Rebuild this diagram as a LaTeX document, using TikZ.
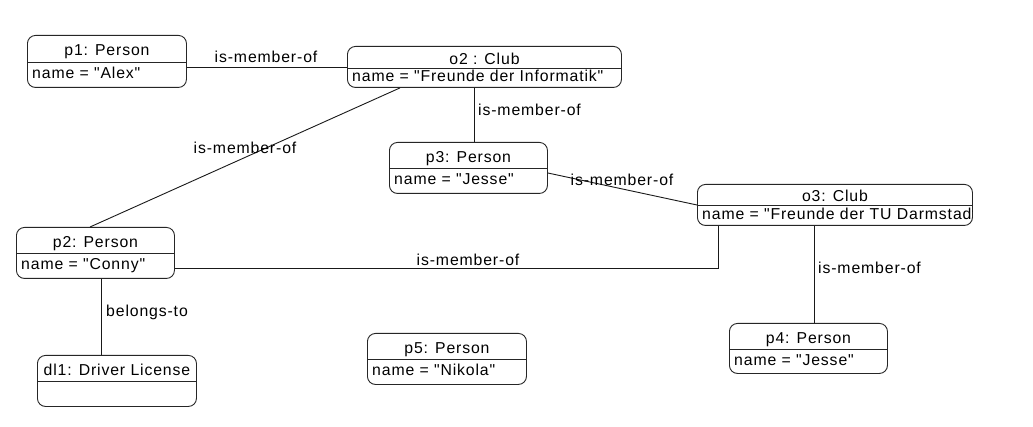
\documentclass[tikz,border=0pt]{standalone}
\usepackage{fontspec}
\newfontfamily\diagfont{Liberation Sans}[LetterSpace=5.5]
\usetikzlibrary{calc}
\tikzset{
  objbox/.style={draw=black!85, line width=0.9pt, rounded corners=8pt, inner sep=0pt, anchor=north west},
  divline/.style={draw=black!85, line width=0.9pt},
  conn/.style={draw=black!90, line width=0.9pt},
  txt/.style={inner sep=0pt, font=\diagfont\fontsize{15.8}{17}\selectfont, text=black},
  lbl/.style={txt},
}
% name, x, y, width, height, divider offset, title, attribute
\newcommand\objnode[8]{%
  \node[objbox, minimum width=#4pt, minimum height=#5pt] (#1) at (#2,-#3) {};
  \draw[divline] ([yshift=-#6pt]#1.north west) -- ([yshift=-#6pt]#1.north east);
  \node[txt, anchor=base] (#1-title) at ($(#1.north)+(0,-#6/2-7.5)$) {#7};
  \begin{scope}
    \clip (#1.north west) rectangle (#1.south east);
    \node[txt, anchor=base west] (#1-attr) at ($(#1.north west)+(5,-#6/2-#5/2-4.5)$) {#8};
  \end{scope}
}
\begin{document}
\begin{tikzpicture}[x=1pt,y=1pt]
\useasboundingbox (0,0) rectangle (1033,-427);
\fill[white] (0,0) rectangle (1033,-427);

\objnode{p1}{27}{35}{159}{52}{27}{p1: Person}{name = "Alex"}
\objnode{o2}{347}{46}{274}{41}{22}{o2 : Club}{name = "Freunde der Informatik"}
\objnode{p3}{389}{142}{158}{51}{26}{p3: Person}{name = "Jesse"}
\objnode{o3}{697}{184}{275}{41}{21}{o3: Club}{name = "Freunde der TU Darmstadt"}
\objnode{p2}{16}{227}{158}{51}{26}{p2: Person}{name = "Conny"}
\objnode{dl1}{37}{355}{159}{51}{26}{dl1: Driver License}{}
\objnode{p5}{367}{333}{159}{51}{26}{p5: Person}{name = "Nikola"}
\objnode{p4}{729}{323}{158}{50}{26}{p4: Person}{name = "Jesse"}

% connectors
\draw[conn] (p1.east |- 0,-67.5) -- (o2.west |- 0,-67.5);
\draw[conn] (o2.south -| 400,0) -- (p2.north -| 90,0);
\draw[conn] (o2.south -| 474,0) -- (p3.north -| 474,0);
\draw[conn] (p3.east |- 0,-173) -- (o3.west |- 0,-205);
\draw[conn] (p2.east |- 0,-268.5) -| (o3.south -| 718.5,0);
\draw[conn] (o3.south -| 814.5,0) -- (p4.north -| 814.5,0);
\draw[conn] (p2.south -| 101.5,0) -- (dl1.north -| 101.5,0);

% labels
\node[lbl] (l1) at (266,-57) {is-member-of};
\node[lbl] (l2) at (245,-148) {is-member-of};
\node[lbl, anchor=west] (l3) at (478,-110) {is-member-of};
\node[lbl] (l4) at (622,-180) {is-member-of};
\node[lbl] (l5) at (468,-260) {is-member-of};
\node[lbl, anchor=west] (l6) at (818,-268) {is-member-of};
\node[lbl, anchor=west] (l7) at (106,-312) {belongs-to};
\end{tikzpicture}
\end{document}
